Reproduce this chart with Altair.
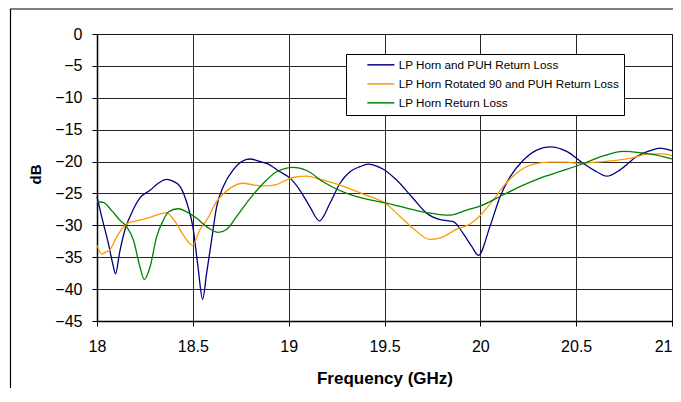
import altair as alt
import pandas as pd

series_names = ["LP Horn and PUH Return Loss",
                "LP Horn Rotated 90 and PUH Return Loss",
                "LP Horn Return Loss"]
series_colors = ["#000080", "#FF9900", "#008000"]

x_ticks = [18, 18.5, 19, 19.5, 20, 20.5, 21]
y_ticks = [-45, -40, -35, -30, -25, -20, -15, -10, -5, 0]

blue_freq = [18.0, 18.024, 18.059, 18.082, 18.097, 18.117, 18.146, 18.188, 18.224, 18.277,
             18.32, 18.363, 18.398, 18.433, 18.475, 18.5, 18.527, 18.551, 18.572, 18.598,
             18.624, 18.659, 18.711, 18.755, 18.798, 18.842, 18.885, 18.955, 19.007, 19.059,
             19.111, 19.16, 19.216, 19.268, 19.32, 19.372, 19.415, 19.459, 19.494, 19.563,
             19.65, 19.72, 19.79, 19.859, 19.911, 19.955, 19.99, 20.05, 20.103, 20.155,
             20.224, 20.294, 20.364, 20.45, 20.537, 20.607, 20.659, 20.729, 20.816, 20.885,
             20.937, 21.0]
blue_db = [-25.5, -28.6, -32.8, -36.0, -37.6, -34.4, -30.7, -27.6, -25.7, -24.5,
           -23.4, -22.8, -23.1, -23.9, -27.1, -30.2, -36.5, -41.6, -37.5, -32.3,
           -27.1, -23.9, -21.3, -20.0, -19.6, -19.9, -20.3, -21.6, -22.6, -24.5,
           -27.1, -29.3, -26.5, -23.4, -21.6, -20.8, -20.4, -20.7, -21.2, -22.9,
           -25.8, -28.1, -29.1, -29.4, -31.3, -33.3, -34.7, -30.2, -25.5, -22.4,
           -19.8, -18.2, -17.7, -18.4, -20.3, -21.6, -22.3, -21.3, -19.2, -18.3,
           -17.9, -18.3]

orange_freq = [18.0, 18.024, 18.045, 18.068, 18.103, 18.137, 18.163, 18.224, 18.27, 18.311,
               18.363, 18.407, 18.45, 18.499, 18.537, 18.572, 18.624, 18.694, 18.763, 18.82,
               18.868, 18.937, 18.98, 19.024, 19.094, 19.163, 19.268, 19.389, 19.511, 19.581,
               19.65, 19.737, 19.806, 19.876, 19.946, 19.998, 20.068, 20.12, 20.19, 20.277,
               20.364, 20.45, 20.52, 20.6, 20.677, 20.78, 20.885, 20.955, 21.0]
orange_db = [-33.1, -34.5, -34.2, -33.8, -31.8, -30.3, -29.6, -29.2, -28.8, -28.4,
             -28.0, -29.4, -31.5, -33.1, -30.7, -29.2, -26.3, -24.2, -23.4, -23.7,
             -23.8, -23.6, -23.0, -22.5, -22.3, -22.8, -23.7, -25.1, -26.7, -28.6,
             -30.5, -32.2, -31.8, -30.6, -29.8, -28.5, -26.0, -23.9, -21.8, -20.4,
             -20.1, -20.1, -20.3, -20.1, -19.9, -19.5, -18.8, -18.8, -19.1]

green_freq = [18.0, 18.033, 18.077, 18.12, 18.155, 18.19, 18.224, 18.247, 18.277, 18.311,
              18.346, 18.372, 18.424, 18.468, 18.52, 18.572, 18.633, 18.677, 18.729, 18.798,
              18.868, 18.937, 18.98, 19.024, 19.094, 19.181, 19.303, 19.407, 19.511, 19.616,
              19.72, 19.842, 19.929, 19.998, 20.12, 20.224, 20.329, 20.433, 20.52, 20.642,
              20.746, 20.833, 20.92, 21.0]
green_db = [-26.3, -26.4, -27.7, -29.2, -30.2, -32.3, -36.5, -38.5, -36.5, -31.8,
            -29.2, -27.9, -27.4, -27.9, -28.9, -30.2, -31.1, -30.6, -28.6, -25.8,
            -23.4, -21.6, -21.1, -20.9, -21.4, -23.2, -25.0, -25.9, -26.5, -27.3,
            -28.0, -28.4, -27.6, -27.0, -25.2, -23.7, -22.4, -21.4, -20.5, -19.1,
            -18.4, -18.6, -19.0, -19.6]

rows = []
for name, fr, db in zip(series_names,
                        [blue_freq, orange_freq, green_freq],
                        [blue_db, orange_db, green_db]):
    for f, d in zip(fr, db):
        rows.append({"series": name, "freq": f, "db": d})
df = pd.DataFrame(rows)

FONT = "Liberation Sans"

one = pd.DataFrame({"k": [0]})
frame_top = alt.Chart(one).mark_rule(color="black", strokeWidth=1.2).encode(
    x=alt.value(-87), x2=alt.value(700), y=alt.value(-25)
)
frame_left = alt.Chart(one).mark_rule(color="black", strokeWidth=1.2).encode(
    x=alt.value(-86.5), y=alt.value(-25), y2=alt.value(500)
)

last_label_align = {"condition": {"test": "datum.value >= 21", "value": "right"},
                    "value": "center"}

lines = alt.Chart(df).mark_line(strokeWidth=1.3, interpolate="monotone").encode(
    x=alt.X("freq:Q",
            scale=alt.Scale(domain=[18, 21], nice=False, zero=False),
            axis=alt.Axis(values=x_ticks, format="~g", title="Frequency (GHz)",
                          labelFontSize=16, labelPadding=12, tickSize=5,
                          labelFlush=False, labelAlign=last_label_align,
                          titleFontSize=17, titleFontWeight="bold",
                          titleY=57, titleBaseline="middle")),
    y=alt.Y("db:Q",
            scale=alt.Scale(domain=[-45, 0], nice=False, zero=False),
            axis=alt.Axis(values=y_ticks, title="dB",
                          labelFontSize=16, labelPadding=10, tickSize=5,
                          labelFlush=False,
                          titleFontSize=15, titleFontWeight="bold",
                          titleAngle=270, titleX=-62, titleY=140,
                          titleAlign="center", titleBaseline="middle")),
    color=alt.Color("series:N",
                    scale=alt.Scale(domain=series_names, range=series_colors),
                    legend=alt.Legend(orient="none", legendX=249, legendY=20,
                                      direction="vertical", title=None,
                                      symbolType="M-3,0H3", symbolSize=81,
                                      symbolStrokeWidth=1.5, symbolOffset=24,
                                      labelOffset=12, labelFont=FONT,
                                      labelFontSize=11.7, labelColor="black",
                                      labelLimit=400,
                                      labelExpr="datum.label + '      '",
                                      padding=5, rowPadding=6,
                                      strokeColor="black", fillColor="white"))
)

chart = alt.layer(frame_top, frame_left, lines).properties(
    width=575, height=287,
    autosize=alt.AutoSizeParams(type="none"),
    padding={"left": 89, "top": 26, "right": 1, "bottom": 67},
    background="white"
).configure_view(
    stroke="#808080", strokeWidth=1
).configure_axis(
    labelFont=FONT, titleFont=FONT, labelColor="black", titleColor="black",
    domainColor="black", domainWidth=1.5, tickColor="black",
    gridColor="#000000", gridWidth=1, gridOpacity=0.85
)

chart.save("out.html", embed_options={"renderer": "svg", "actions": False})
